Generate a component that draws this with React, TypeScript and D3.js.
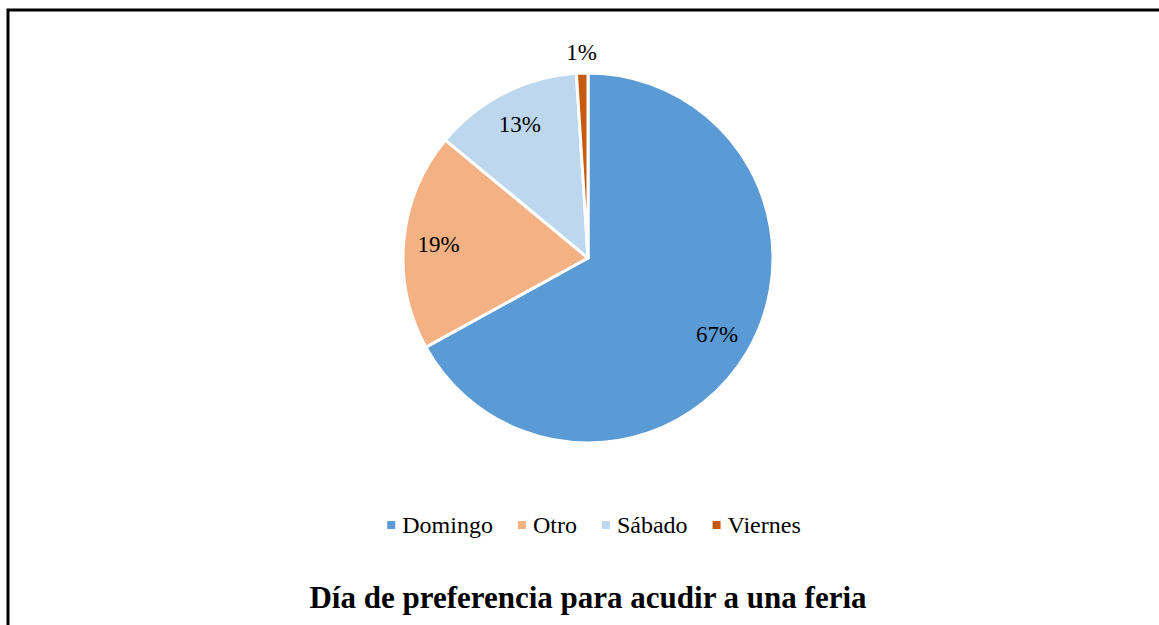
import React, { useEffect, useRef } from "react";
import * as d3 from "d3";

// pie data
const days = ["Domingo", "Otro", "Sábado", "Viernes"];
const shares = [67, 19, 13, 1];
const colors = ["#5B9BD5", "#F4B183", "#BDD7EE", "#C55A11"];
const title = "Día de preferencia para acudir a una feria";

const W = 1159;
const H = 625;

export default function App() {
  const ref = useRef<SVGSVGElement>(null);

  useEffect(() => {
    const svg = d3.select(ref.current);
    svg.selectAll("*").remove(); //clear previous render

    const font = "'Liberation Serif', 'Times New Roman', serif";
    const cx = 588;
    const cy = 258;
    const r = 185;

    // frame (top + left only)
    svg.append("path")
      .attr("d", `M8,${H} L8,10 L${W},10`)
      .attr("fill", "none")
      .attr("stroke", "#000")
      .attr("stroke-width", 3);

    const rows = days.map((d, i) => ({ day: d, value: shares[i], color: colors[i] }));

    const pie = d3.pie<any>().value(d => d.value).sort(null);
    const arcs = pie(rows);
    const arc = d3.arc<any>().innerRadius(0).outerRadius(r);
    const labelArc = d3.arc<any>().innerRadius(150).outerRadius(150);
    const outerArc = d3.arc<any>().innerRadius(206).outerRadius(206);

    const g = svg.append("g").attr("transform", `translate(${cx},${cy})`);

    g.selectAll("path.slice")
      .data(arcs)
      .join("path")
      .attr("class", "slice")
      .attr("d", arc)
      .attr("fill", d => d.data.color)
      .attr("stroke", "#fff")
      .attr("stroke-width", 3)
      .attr("stroke-linejoin", "round");

    //labels: small slice goes outside
    g.selectAll("text.lbl")
      .data(arcs)
      .join("text")
      .attr("class", "lbl")
      .attr("transform", d => {
        const [x, y] = (d.data.value < 5 ? outerArc : labelArc).centroid(d);
        return `translate(${x},${y})`;
      })
      .attr("text-anchor", "middle")
      .attr("dy", "0.35em")
      .attr("font-family", font)
      .attr("font-size", 23)
      .attr("fill", "#000")
      .text(d => `${d.data.value}%`);

    // legend
    const legend = svg.append("g").attr("font-family", font).attr("font-size", 24);
    const items = legend.selectAll("g")
      .data(rows)
      .join("g");
    items.append("rect")
      .attr("width", 8)
      .attr("height", 8)
      .attr("y", 521)
      .attr("fill", d => d.color);
    items.append("text")
      .attr("x", 15)
      .attr("y", 533)
      .attr("fill", "#000")
      .text(d => d.day);

    let x = 0;
    const gap = 25;
    const offsets: number[] = [];
    items.each(function () {
      offsets.push(x);
      const tw = (d3.select(this).select("text").node() as SVGTextElement).getComputedTextLength();
      x += 15 + tw + gap;
    });
    const total = x - gap;
    const startX = cx + 6 - total / 2;
    items.attr("transform", (d, i) => `translate(${startX + offsets[i]},0)`);

    svg.append("text")
      .attr("x", cx)
      .attr("y", 608)
      .attr("text-anchor", "middle")
      .attr("font-family", font)
      .attr("font-size", 31)
      .attr("font-weight", "bold")
      .attr("fill", "#000")
      .text(title);
  }, []);

  return (
    <svg
      ref={ref}
      width={W}
      height={H}
      style={{ position: "absolute", left: 0, top: 0, background: "#fff" }}
    />
  );
}
